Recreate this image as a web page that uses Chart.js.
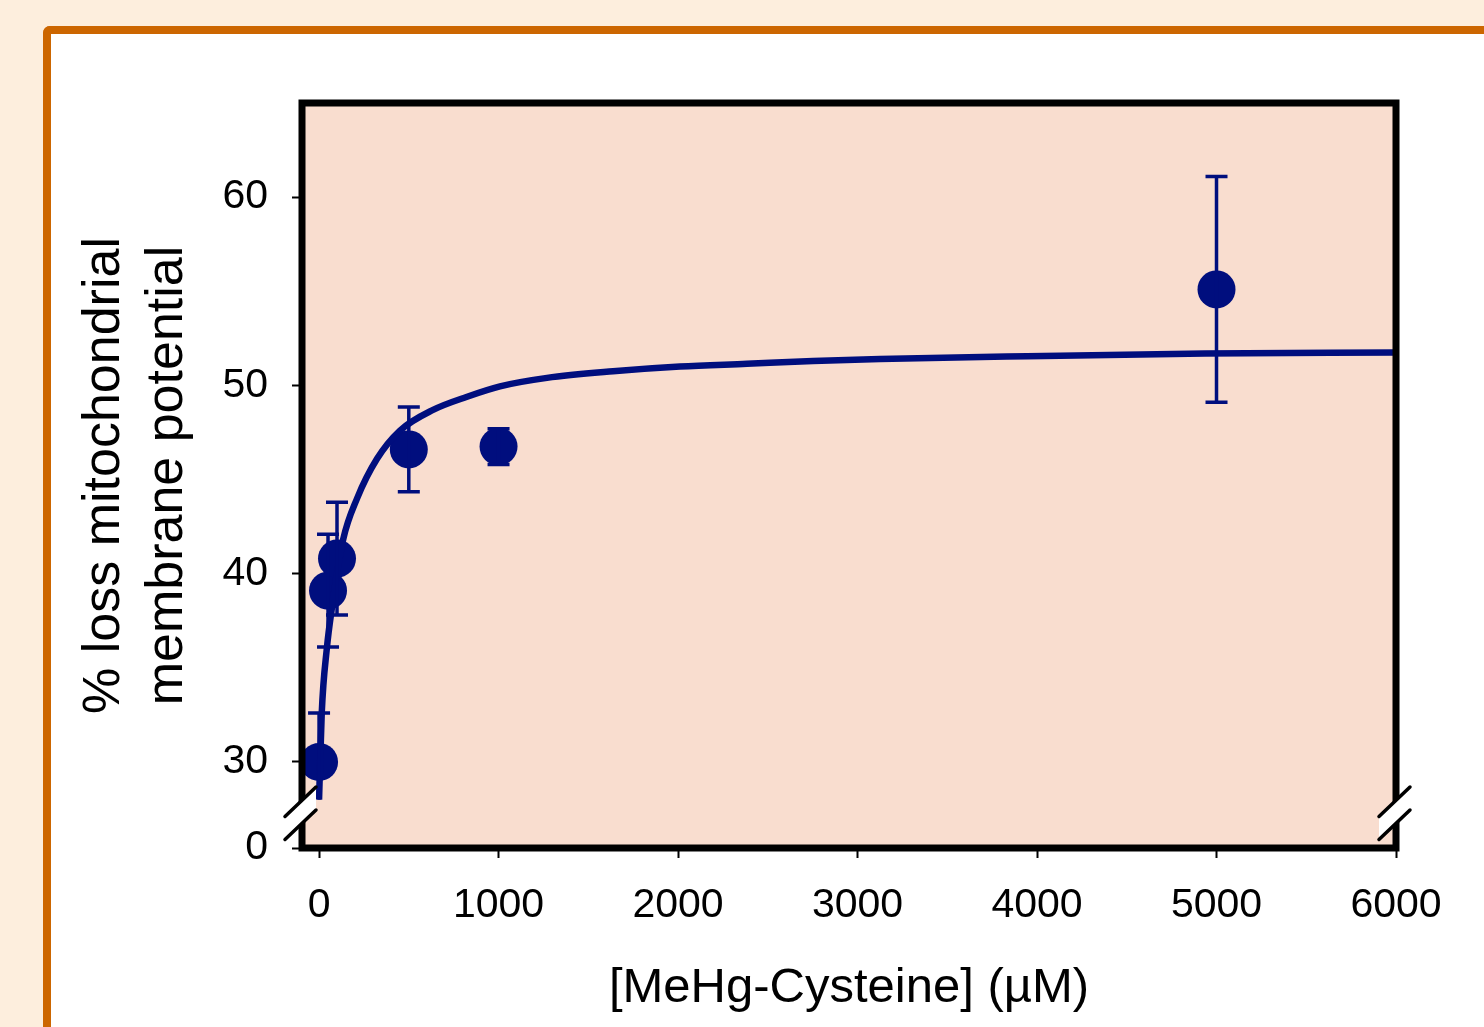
<!DOCTYPE html>
<html>
<head>
<meta charset="utf-8">
<title>MeHg-Cysteine dose response</title>
<script src="https://cdn.jsdelivr.net/npm/chart.js@4.4.0/dist/chart.umd.min.js"></script>
<style>
  html, body { margin: 0; padding: 0; }
  body { width: 1484px; height: 1027px; background: #fdeedd; overflow: hidden; position: relative; }
  #panel {
    position: absolute; left: 43px; top: 26px; width: 1500px; height: 1100px;
    background: #fff; border-left: 8px solid #cc6600; border-top: 8px solid #cc6600;
    border-top-left-radius: 7px;
  }
  #wrap { position: absolute; left: 0; top: 0; width: 1484px; height: 1027px; }
</style>
</head>
<body>
<div id="panel"></div>
<div id="wrap"><canvas id="doseChart" width="1484" height="1027"></canvas></div>
<script>
// measured points: concentration (uM), mean % loss, error
const concentrations = [0, 50, 100, 500, 1000, 5000];
const meanLoss = [30.0, 39.1, 40.8, 46.6, 46.75, 55.1];
const lossError = [2.6, 3.0, 3.0, 2.25, 0.95, 6.0];

// fitted saturation curve, read along its length
const curveX = [0, 15, 43, 72, 134, 212, 323, 451, 635, 825, 1008, 1270, 1638, 2011, 2384, 2752, 3125, 3944, 4936, 6000];
const curveY = [28.0, 32.6, 36.0, 38.2, 41.8, 44.0, 46.1, 47.6, 48.7, 49.4, 49.95, 50.4, 50.75, 51.0, 51.15, 51.3, 51.4, 51.55, 51.7, 51.75];

// axes
const xTicks = [0, 1000, 2000, 3000, 4000, 5000, 6000];
const yTicks = [30, 40, 50, 60];
const zeroLabel = '0';          // label for the broken bottom of the y axis
const xMin = -95, xMax = 6000;
const yMin = 25.43, yMax = 65;
const yBreak = 27.35;           // where the axis break marks sit

const xTitle = '[MeHg-Cysteine] (\u00b5M)';
const yTitle = ['% loss mitochondrial', 'membrane potential'];

const navy = '#000e7e';
const plotFill = '#f9ddcf';

Chart.defaults.font.family = '"Liberation Sans", Arial, Helvetica, sans-serif';
Chart.defaults.color = '#000';

const plotBackground = {
  id: 'plotBackground',
  beforeDraw(chart) {
    const { ctx, chartArea: a } = chart;
    ctx.save();
    ctx.fillStyle = plotFill;
    ctx.fillRect(a.left, a.top, a.right - a.left, a.bottom - a.top);
    ctx.restore();
  }
};

const errorBars = {
  id: 'errorBars',
  afterDatasetsDraw(chart) {
    const { ctx, scales: { x, y } } = chart;
    const cutoff = y.getPixelForValue(yBreak) - 12;   // bars stop at the axis break
    ctx.save();
    ctx.strokeStyle = navy;
    ctx.lineWidth = 3.5;
    concentrations.forEach((c, i) => {
      const px = x.getPixelForValue(c);
      const top = y.getPixelForValue(meanLoss[i] + lossError[i]);
      let bot = y.getPixelForValue(meanLoss[i] - lossError[i]);
      const clipped = bot > cutoff;
      if (clipped) bot = cutoff;
      ctx.beginPath();
      ctx.moveTo(px, top); ctx.lineTo(px, bot);
      ctx.moveTo(px - 11, top); ctx.lineTo(px + 11, top);
      if (!clipped) { ctx.moveTo(px - 11, bot); ctx.lineTo(px + 11, bot); }
      ctx.stroke();
    });
    ctx.restore();
  }
};

// black frame round the plot plus the // marks of the y axis break
const axisFrame = {
  id: 'axisFrame',
  afterDatasetsDraw(chart) {
    const { ctx, chartArea: a, scales: { y } } = chart;
    ctx.save();
    ctx.strokeStyle = '#000';
    ctx.lineWidth = 7;
    ctx.strokeRect(a.left, a.top, a.right - a.left, a.bottom - a.top);

    const yb = y.getPixelForValue(yBreak);
    const gap = 11.5, k = 0.95;
    [a.left, a.right].forEach(bx => {
      const x0 = bx - 17, x1 = bx + 14;
      ctx.fillStyle = '#fff';
      ctx.beginPath();
      ctx.moveTo(x0, yb - gap + 17 * k);
      ctx.lineTo(x1, yb - gap - 14 * k);
      ctx.lineTo(x1, yb + gap - 14 * k);
      ctx.lineTo(x0, yb + gap + 17 * k);
      ctx.closePath();
      ctx.fill();
      ctx.lineWidth = 3.5;
      ctx.lineCap = 'round';
      ctx.beginPath();
      ctx.moveTo(x0, yb - gap + 17 * k); ctx.lineTo(x1, yb - gap - 14 * k);
      ctx.moveTo(x0, yb + gap + 17 * k); ctx.lineTo(x1, yb + gap - 14 * k);
      ctx.stroke();
    });
    ctx.restore();
  }
};

new Chart(document.getElementById('doseChart'), {
  type: 'scatter',
  data: {
    datasets: [
      {
        label: 'fit',
        data: curveX.map((v, i) => ({ x: v, y: curveY[i] })),
        showLine: true,
        borderColor: navy,
        borderWidth: 6.5,
        pointRadius: 0,
        cubicInterpolationMode: 'monotone'
      },
      {
        label: 'measured',
        data: concentrations.map((c, i) => ({ x: c, y: meanLoss[i] })),
        backgroundColor: navy,
        borderWidth: 0,
        pointRadius: 19,
        pointHoverRadius: 19
      }
    ]
  },
  options: {
    responsive: false,
    animation: false,
    events: [],
    devicePixelRatio: 1,
    layout: { padding: { left: 0, top: 103, right: 88, bottom: 0 } },
    plugins: { legend: { display: false }, tooltip: { enabled: false } },
    scales: {
      x: {
        type: 'linear', min: xMin, max: xMax,
        afterFit(s) { s.height = 179; },
        afterBuildTicks(s) { s.ticks = xTicks.map(v => ({ value: v })); },
        ticks: { callback: v => String(v), font: { size: 41 }, padding: 23, maxRotation: 0, autoSkip: false, color: '#000' },
        grid: { drawOnChartArea: false, tickLength: 10, tickWidth: 2, tickColor: '#000' },
        border: { display: false },
        title: { display: true, text: xTitle, font: { size: 49 }, color: '#000', padding: { top: 0, bottom: 9 } }
      },
      y: {
        type: 'linear', min: yMin, max: yMax,
        afterFit(s) { s.width = 302; },
        afterBuildTicks(s) { s.ticks = [yMin, ...yTicks].map(v => ({ value: v })); },
        ticks: { callback: v => (v === yMin ? zeroLabel : String(v)), font: { size: 41 }, padding: 24, autoSkip: false, color: '#000' },
        grid: { drawOnChartArea: false, tickLength: 10, tickWidth: 2, tickColor: '#000' },
        border: { display: false },
        title: { display: true, text: yTitle, font: { size: 52, lineHeight: 1.21 }, color: '#000', padding: { top: 73, bottom: 0 } }
      }
    }
  },
  plugins: [plotBackground, errorBars, axisFrame]
});
</script>
</body>
</html>
